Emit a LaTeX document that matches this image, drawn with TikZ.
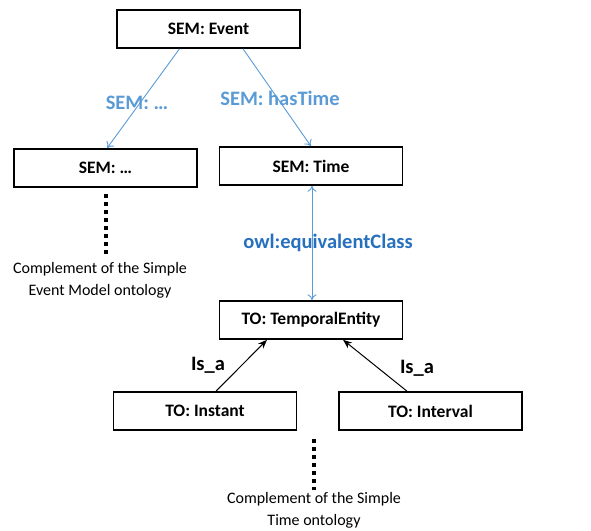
\documentclass[tikz,border=0pt]{standalone}
\usepackage{fontspec}
\setmainfont{Carlito}
\usetikzlibrary{arrows.meta}
\definecolor{semblue}{RGB}{91,155,213}
\definecolor{owlblue}{RGB}{38,112,190}
\tikzset{
	classbox/.style={draw=black, line width=1.6pt, minimum width=183pt, minimum height=38pt, inner sep=0pt, font=\fontsize{17.5}{20}\selectfont\bfseries},
	semlink/.style={semblue, line width=0.9pt, -{To[length=6pt,width=9pt]}},
	isalink/.style={black, line width=1pt, -{Stealth[length=9pt,width=7pt]}},
	dotline/.style={line width=4pt, dash pattern=on 4pt off 4pt},
	compl/.style={align=center, font=\fontsize{16}{22}\selectfont},
	linklbl/.style={font=\fontsize{20.5}{24}\selectfont\bfseries}
}

\begin{document}
\begin{tikzpicture}[x=1pt, y=-1pt]
			%%%%% START %%%%%
			\useasboundingbox (0, 0) rectangle (591, 530);
			
			\node[classbox] (event) at (208.5, 29) {SEM: Event};
			\node[classbox] (semdots) at (105.5, 168) {SEM: \dots};
			\node[classbox] (time) at (311, 166) {SEM: Time};
			\node[classbox] (temporal) at (311, 320) {TO: TemporalEntity};
			\node[classbox] (instant) at (205, 411) {TO: Instant};
			\node[classbox] (interval) at (430.5, 411) {TO: Interval};
			
			\draw[semlink] ([xshift=-29pt]event.south) -- ([xshift=1.5pt]semdots.north);
			\draw[semlink] ([xshift=34.5pt]event.south) -- (time.north);
			\draw[semlink, {To[length=6pt,width=9pt]}-{To[length=6pt,width=9pt]}] ([xshift=1pt]time.south) -- ([xshift=1pt]temporal.north);
			
			\node[linklbl, semblue] (semdotslbl) at (137, 103) {SEM: \dots};
			\node[linklbl, semblue] (hastime) at (280, 98) {SEM: hasTime};
			\node[linklbl, owlblue] (equiv) at (328, 243) {owl:equivalentClass};
			
			\draw[isalink] ([xshift=11pt]instant.north) -- ([xshift=-44pt]temporal.south);
			\draw[isalink] ([xshift=-23.5pt]interval.north) -- ([xshift=32pt]temporal.south);
			\node[linklbl] (isaleft) at (208, 365) {Is\_a};
			\node[linklbl] (isaright) at (417, 368) {Is\_a};
			
			\node[compl] (semcompl) at (100, 280) {Complement of the Simple\\Event Model ontology};
			\node[compl] (tocompl) at (314, 510) {Complement of the Simple\\Time ontology};
			\draw[dotline] ([yshift=-6pt]semdots.south) -- ([yshift=4pt]semdots.south |- semcompl.north);
			\draw[dotline] ([yshift=-8pt]instant.south -| tocompl.north) -- ([yshift=-1pt]tocompl.north);
			
			%%%%% END %%%%%
		\end{tikzpicture}
\end{document}
